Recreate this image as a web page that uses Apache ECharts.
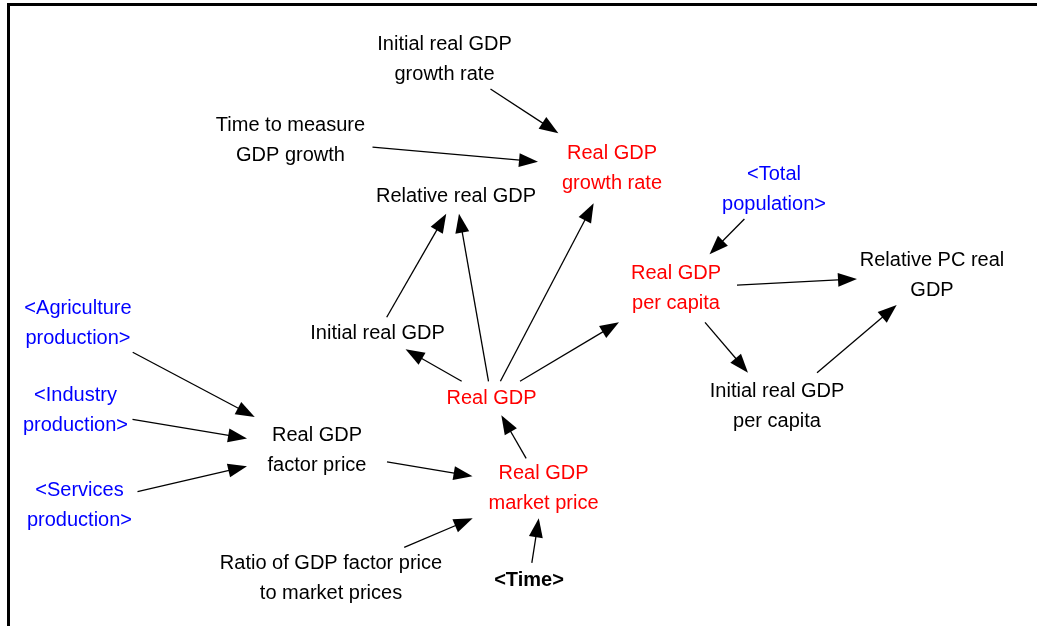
<!DOCTYPE html>
<html>
<head>
<meta charset="utf-8">
<title>Real GDP causal diagram</title>
<script src="https://cdn.jsdelivr.net/npm/echarts@6/dist/echarts.min.js"></script>
<style>
  html, body { margin: 0; padding: 0; background: #fff; }
  #main { width: 1037px; height: 626px; }
</style>
</head>
<body>
<div id="main"></div>
<script>
// variables of the sketch
const names = [
  'Initial real GDP\ngrowth rate',
  'Time to measure\nGDP growth',
  'Real GDP\ngrowth rate',
  'Relative real GDP',
  '<Total\npopulation>',
  'Real GDP\nper capita',
  'Relative PC real\nGDP',
  'Initial real GDP\nper capita',
  'Initial real GDP',
  'Real GDP',
  'Real GDP\nfactor price',
  'Real GDP\nmarket price',
  'Ratio of GDP factor price\nto market prices',
  '<Time>',
  '<Agriculture\nproduction>',
  '<Industry\nproduction>',
  '<Services\nproduction>'
];
// aux = normal variable, level = red, shadow = blue <..>, time = bold shadow
const nodeKind = ['aux', 'aux', 'level', 'aux', 'shadow', 'level', 'aux', 'aux',
  'aux', 'level', 'aux', 'level', 'aux', 'time', 'shadow', 'shadow', 'shadow'];
const nodeX = [444.5, 290.5, 612, 456, 774, 676, 932, 777, 377.5, 491.5, 317, 543.5, 331, 529, 78, 75.5, 79.5];
const nodeY = [59, 140, 168.3, 196.7, 189, 288.3, 275, 406.7, 333.3, 398.3, 450, 488.3, 578.3, 580.8, 323.3, 410, 505];
// causal links [from, to]
const links = [
  [0, 2], [1, 2], [9, 3], [8, 3], [9, 8], [9, 2], [9, 5], [11, 9], [10, 11],
  [12, 11], [13, 11], [14, 10], [15, 10], [16, 10], [4, 5], [5, 6], [5, 7], [7, 6]
];

// half sizes of each variable box, arrows stop at its edge
const boxW = [72, 82, 74, 86, 58, 61, 75, 72, 72, 52, 70, 71, 115, 40, 58, 57, 58];
const boxH = [30, 32, 35, 17, 30, 34, 30, 34, 16, 17, 33, 30, 31, 18, 29, 30, 30];

const ARROW_LEN = 19;
const ARROW_W = 14;

const kindStyle = {
  aux: { color: '#000000', fontWeight: 'normal' },
  level: { color: '#ff0000', fontWeight: 'normal' },
  shadow: { color: '#0000ff', fontWeight: 'normal' },
  time: { color: '#000000', fontWeight: 'bold' }
};

function clipDist(i, ux, uy) {
  const tx = ux ? boxW[i] / Math.abs(ux) : Infinity;
  const ty = uy ? boxH[i] / Math.abs(uy) : Infinity;
  return Math.min(tx, ty);
}

const nodeData = names.map(function (n, i) {
  const st = kindStyle[nodeKind[i]];
  return {
    name: n,
    value: [nodeX[i], nodeY[i]],
    label: { color: st.color, fontWeight: st.fontWeight }
  };
});

const linkData = links.map(function (l) {
  const s = l[0], t = l[1];
  let dx = nodeX[t] - nodeX[s], dy = nodeY[t] - nodeY[s];
  const len = Math.sqrt(dx * dx + dy * dy);
  dx /= len; dy /= len;
  const a = clipDist(s, dx, dy);
  const b = clipDist(t, dx, dy) + ARROW_LEN / 2; // symbol sits centred on the end point
  return {
    coords: [
      [nodeX[s] + dx * a, nodeY[s] + dy * a],
      [nodeX[t] - dx * b, nodeY[t] - dy * b]
    ]
  };
});

let chart = echarts.init(document.getElementById('main'));
chart.setOption({
  animation: false,
  backgroundColor: '#ffffff',
  grid: { left: 0, right: 0, top: 0, bottom: 0 },
  xAxis: { type: 'value', min: 0, max: 1037, show: false },
  yAxis: { type: 'value', min: 0, max: 626, inverse: true, show: false },
  graphic: [{
    type: 'polyline',
    silent: true,
    shape: { points: [[8.5, 626], [8.5, 4.5], [1037, 4.5]] },
    style: { stroke: '#000', lineWidth: 3, fill: null }
  }],
  series: [
    {
      type: 'lines',
      coordinateSystem: 'cartesian2d',
      silent: true,
      symbol: ['none', 'triangle'],
      symbolSize: [0, [ARROW_W, ARROW_LEN]],
      lineStyle: { color: '#000', width: 1.3, opacity: 1 },
      itemStyle: { color: '#000' },
      data: linkData
    },
    {
      type: 'scatter',
      silent: true,
      symbolSize: 1,
      itemStyle: { color: 'transparent', opacity: 1 },
      label: {
        show: true,
        position: 'inside',
        formatter: '{b}',
        fontFamily: '"Liberation Sans", Arial, sans-serif',
        fontSize: 20,
        lineHeight: 30,
        opacity: 1,
        align: 'center',
        verticalAlign: 'middle'
      },
      data: nodeData
    }
  ]
});
window.onresize = function () {
  chart.resize();
};
</script>
</body>
</html>
